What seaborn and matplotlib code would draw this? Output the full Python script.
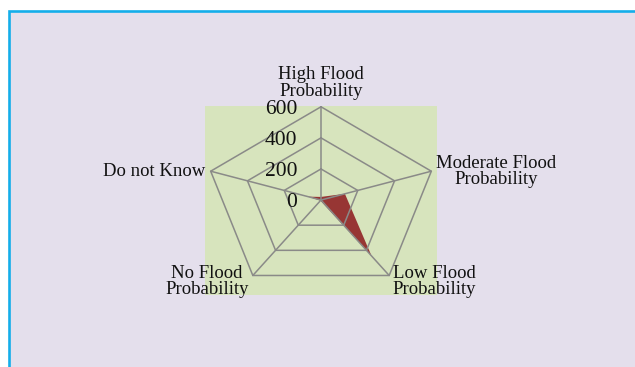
import numpy as np
import pandas as pd
import matplotlib
matplotlib.use("Agg")
import matplotlib.pyplot as plt
from matplotlib.patches import Rectangle
import seaborn as sns

# ---- data ----
categories = ["High Flood\nProbability", "Moderate Flood\nProbability",
              "Low Flood\nProbability", "No Flood\nProbability", "Do not Know"]
values = [20, 130, 445, 5, 70]
tick_values = [0, 200, 400, 600]
tick_labels = ["0", "200", "400", "600"]
r_max = 600

sns.set_theme(style="white")
plt.rcParams["font.family"] = ["Liberation Serif", "DejaVu Serif"]

W, H, DPI = 635, 367, 100
fig = plt.figure(figsize=(W / DPI, H / DPI), dpi=DPI, facecolor="white")

# outer chart frame (lavender with cyan border)
frame_top = 1 - 11 / H
frame = Rectangle((9 / W, -0.2), 1.2, frame_top + 0.2, transform=fig.transFigure,
                  facecolor="#E4DFEC", edgecolor="#14AEEA", linewidth=1.9, zorder=-5)
fig.patches.append(frame)

# plot area (green)
left, right, top, bottom = 205, 437, 106, 295
ax = fig.add_axes([left / W, 1 - bottom / H, (right - left) / W, (bottom - top) / H])
ax.set_zorder(1)
ax.set_facecolor("#D7E4BD")
for s in ax.spines.values():
    s.set_visible(False)
ax.set_xlim(-600, 600)
ax.set_ylim(-611, 605)

n = len(categories)
angles = np.deg2rad(90 - 72 * np.arange(n))
cos_a, sin_a = np.cos(angles), np.sin(angles)

def closed(arr):
    return np.append(arr, arr[0])

# data polygon
vals = np.array(values, dtype=float)
df = pd.DataFrame({"x": closed(vals * cos_a), "y": closed(vals * sin_a)})
ax.fill(df["x"], df["y"], color="#973634", lw=0, zorder=2)

# grid rings and spokes
grid_col = "#8A8A88"
for t in tick_values[1:]:
    ring = pd.DataFrame({"x": closed(t * cos_a), "y": closed(t * sin_a)})
    sns.lineplot(data=ring, x="x", y="y", sort=False, estimator=None,
                 color=grid_col, lw=1.1, ax=ax, zorder=3)
for c, s in zip(cos_a, sin_a):
    ax.plot([0, r_max * c], [0, r_max * s], color=grid_col, lw=1.1, zorder=3)
ax.set_xlabel("")
ax.set_ylabel("")
ax.set_xticks([])
ax.set_yticks([])

# radial tick labels
px = 0.72  # points per pixel
for t, lab in zip(tick_values, tick_labels):
    ax.annotate(lab, xy=(0, t), xytext=(-24 * px, -2.5 * px), textcoords="offset points",
                ha="right", va="center", fontsize=15.5, color="#111111", zorder=4,
                annotation_clip=False)

# category labels
offsets = [(0, 7, "center", "bottom"),
           (5, 0, "left", "center"),
           (3, -6, "left", "center"),
           (-4, -6, "right", "center"),
           (-5, 0, "right", "center")]
for lab, c, s, (dx, dy, ha, va) in zip(categories, cos_a, sin_a, offsets):
    ax.annotate(lab, xy=(r_max * c, r_max * s), xytext=(dx * px, dy * px),
                textcoords="offset points", ha=ha, va=va, multialignment="center",
                fontsize=13.5, color="#111111", linespacing=0.95, zorder=4,
                annotation_clip=False)

fig.savefig("out.png", dpi=DPI, facecolor="white")
